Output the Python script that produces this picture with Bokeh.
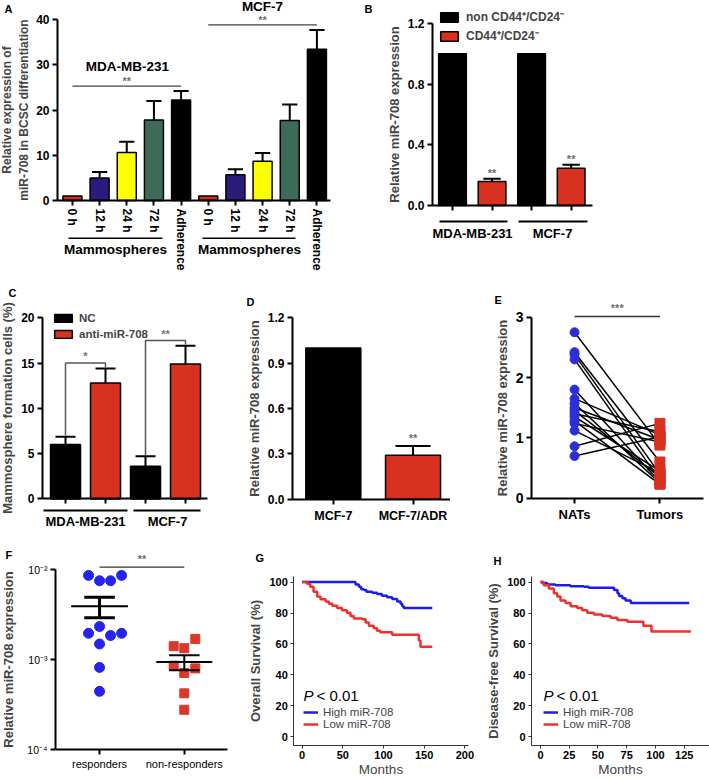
import math
import numpy as np
from bokeh.plotting import figure
from bokeh.layouts import row, column
from bokeh.models import Range1d, FixedTicker, Label, Legend, LegendItem, PrintfTickFormatter
from bokeh.embed import file_html
from bokeh.resources import INLINE

FONT = "Liberation Sans"
SX = 1.0
SY = 1.0

# ---------------- data ----------------
# A
a_groups = ["MDA-MB-231", "MCF-7"]
a_labels = ["0 h", "12 h", "24 h", "72 h", "Adherence", "0 h", "12 h", "24 h", "72 h", "Adherence"]
a_values = [1.0, 5.0, 10.6, 17.8, 22.2, 1.0, 5.7, 8.7, 17.7, 33.4]
a_err = [0.0, 1.3, 2.4, 4.2, 2.0, 0.0, 1.2, 1.8, 3.5, 4.3]
a_colors = ["#cf2f1f", "#2c1b7d", "#ffff00", "#3e6b58", "#000000"] * 2
# B
b_groups = ["MDA-MB-231", "MCF-7"]
b_series = ["non CD44\u207a/CD24\u207b", "CD44\u207a/CD24\u207b"]
b_non = [1.0, 1.0]
b_cd44 = [0.158, 0.246]
b_cd44_err = [0.018, 0.022]
# C
c_groups = ["MDA-MB-231", "MCF-7"]
c_series = ["NC", "anti-miR-708"]
c_nc = [6.0, 3.6]
c_nc_err = [0.85, 1.1]
c_anti = [12.8, 14.9]
c_anti_err = [1.6, 2.0]
c_sig = ["*", "**"]
# D
d_cats = ["MCF-7", "MCF-7/ADR"]
d_vals = [1.0, 0.29]
d_err = [0.0, 0.062]
# E
e_cats = ["NATs", "Tumors"]
e_nats = [2.75, 2.42, 2.38, 2.30, 1.80, 1.65, 1.57, 1.50, 1.45, 1.40, 1.35, 1.28, 1.24, 1.12, 0.86, 0.70]
e_tumors = [0.88, 0.60, 0.40, 0.30, 0.27, 1.05, 0.25, 0.97, 0.35, 1.10, 0.45, 0.23, 0.93, 0.42, 1.24, 1.02]
# F
f_cats = ["responders", "non-responders"]
f_resp = [8.6e-3, 7.5e-3, 7.5e-3, 8.6e-3, 2.33e-3, 1.96e-3, 1.85e-3, 1.96e-3, 1.49e-3, 8.2e-4, 4.45e-4]
f_resp_jit = [-0.13, 0.0, 0.13, 0.26, 0.0, -0.13, 0.13, 0.26, 0.0, 0.0, 0.0]
f_non = [1.41e-3, 1.70e-3, 1.34e-3, 8.58e-4, 7.12e-4, 8.0e-4, 4.23e-4, 2.78e-4]
f_non_jit = [-0.125, 0.13, 0.0, -0.125, 0.0, 0.13, 0.0, 0.0]
# G (overall survival)
g_high_t = [0, 65.6, 69.7, 72.5, 75.8, 79, 86, 92, 98, 104.5, 110.7, 116.8, 121, 123, 125, 160]
g_high_s = [100, 98.5, 96.9, 95.4, 94.8, 93.7, 93.1, 92.3, 91.2, 90.2, 89.1, 87.4, 86.0, 84.3, 83.3, 83.3]
g_low_t = [0, 6, 10, 14, 18.4, 22.5, 28.7, 32.8, 36.9, 43, 49, 55, 59.4, 63.5, 73.8, 78, 82, 88, 92, 96, 110.7, 143.5, 145.5, 160]
g_low_s = [100, 98.9, 96.9, 93.7, 90.6, 88.9, 87.4, 86.0, 84.7, 83.3, 81.8, 80.1, 78.0, 76.4, 75.9, 73.8, 71.8, 70.1, 68.6, 67.6, 66.0, 62.3, 58.2, 58.2]
# H (disease-free survival)
h_high_t = [0, 1.5, 5.8, 13, 26, 37.8, 42, 64, 67, 68.3, 71.2, 74, 78.5, 129.4]
h_high_s = [100, 99.4, 98.5, 97.9, 97.3, 96.9, 96.4, 94.8, 92.7, 91.0, 89.5, 88.1, 86.4, 86.4]
h_low_t = [0, 2.9, 7.3, 11.6, 14.5, 17.4, 21.8, 26.2, 32, 36.3, 40.7, 46.5, 53.8, 61, 66.9, 75.6, 89.5, 96.5, 130.8]
h_low_s = [100, 97.9, 95.8, 92.7, 90.6, 88.1, 86.4, 84.3, 83.3, 81.8, 80.1, 79.1, 78.0, 77.0, 75.5, 74.3, 71.8, 68.0, 68.0]
km_series = ["High miR-708", "Low miR-708"]

RED = "#d8311f"
GRAY = "#707070"


# ---------------- helpers ----------------
def panel(box, axes_box, xr, yr, log=False):
    """box: panel extent; axes_box: where the axes lie (reference pixels)."""
    bx0, by0, bx1, by1 = box
    fl, ft, fr, fb = axes_box

    def ref(rx, ry):
        x = xr[0] + (rx - fl) / (fr - fl) * (xr[1] - xr[0])
        t = (fb - ry) / (fb - ft)
        if log:
            a, b = math.log10(yr[0]), math.log10(yr[1])
            y = 10 ** (a + t * (b - a))
        else:
            y = yr[0] + t * (yr[1] - yr[0])
        return x, y

    X0, X1 = round(bx0 * SX), round(bx1 * SX)
    Y0, Y1 = round(by0 * SY), round(by1 * SY)
    xs, ys = ref(bx0, by1)
    xe, ye = ref(bx1, by0)
    p = figure(width=X1 - X0, height=Y1 - Y0, x_range=Range1d(xs, xe), y_range=Range1d(ys, ye),
               y_axis_type="log" if log else "linear", output_backend="svg", toolbar_location=None,
               min_border=0)
    p.outline_line_color = None
    p.xgrid.visible = False
    p.ygrid.visible = False
    p.xaxis.fixed_location = yr[0]
    p.xaxis.bounds = xr
    p.yaxis.fixed_location = xr[0]
    p.yaxis.bounds = yr

    def loc(rx, ry):
        return (round((rx - bx0) * SX), round((by1 - ry) * SY))
    return p, ref, loc


def style(p, lw=2.0, tick_size="12px", title_size="12.5px", tick_out=5, color="black", tick_bold=True):
    for ax in p.axis:
        ax.axis_line_width = lw
        ax.axis_line_color = color
        ax.major_tick_line_width = lw
        ax.major_tick_line_color = color
        ax.major_tick_in = 0
        ax.major_tick_out = tick_out
        ax.minor_tick_line_color = None
        ax.major_label_text_font = FONT
        ax.major_label_text_font_style = "bold" if tick_bold else "normal"
        ax.major_label_text_font_size = tick_size
        ax.major_label_text_color = "black"
        ax.major_label_standoff = 3
        ax.axis_label_text_font = FONT
        ax.axis_label_text_font_style = "bold"
        ax.axis_label_text_font_size = title_size
        ax.axis_label_standoff = 3


def lab(p, xy, s, size="12px", bold=True, color="black", align="center", italic=False):
    st = "bold" if bold else "normal"
    if italic:
        st = "italic"
    p.add_layout(Label(x=xy[0], y=xy[1], text=s, text_font=FONT, text_font_size=size,
                       text_font_style=st, text_color=color, text_align=align,
                       text_baseline="middle"))


def seg(p, a, b, width=1.5, color="black"):
    p.segment(x0=[a[0]], y0=[a[1]], x1=[b[0]], y1=[b[1]], line_width=width, line_color=color)


def err_bars(p, xs, tops, errs, cap, lw=2.0, color="black"):
    xe = [x for x, e in zip(xs, errs) if e > 0]
    te = [t for t, e in zip(tops, errs) if e > 0]
    ee = [t + e for t, e in zip(tops, errs) if e > 0]
    p.segment(x0=xe, y0=te, x1=xe, y1=ee, line_width=lw, line_color=color)
    p.segment(x0=[x - cap for x in xe], y0=ee, x1=[x + cap for x in xe], y1=ee,
              line_width=lw, line_color=color)


def mk_legend(items, location, gw, gh, lh, spacing, size, bold=True, standoff=6):
    return Legend(items=items, location=location, glyph_width=gw, glyph_height=gh,
                  label_height=lh, spacing=spacing, padding=0, margin=0, border_line_color=None,
                  background_fill_alpha=0, label_text_font=FONT,
                  label_text_font_style="bold" if bold else "normal",
                  label_text_font_size=size, label_standoff=standoff)


# ---------------- A ----------------
pA, rA, lA = panel((0, 0, 360, 285), (57, 19, 330, 200), (0.45, 10.5), (0, 40))
a_pos = list(range(1, len(a_values) + 1))
pA.vbar(x=a_pos, top=a_values, width=0.7, fill_color=a_colors, line_color="black", line_width=1.5)
err_bars(pA, a_pos, a_values, a_err, cap=0.28)
style(pA, title_size="12px")
pA.xaxis.ticker = FixedTicker(ticks=a_pos)
pA.xaxis.major_label_overrides = {x: l for x, l in zip(a_pos, a_labels)}
pA.xaxis.major_label_orientation = "vertical"
pA.yaxis.ticker = FixedTicker(ticks=[0, 10, 20, 30, 40])
pA.yaxis.axis_label = "Relative expression of\nmiR-708 in BCSC differentiation"
pA.yaxis.axis_label_standoff = 2
lab(pA, rA(4, 8), "A", size="11px", align="left")
lab(pA, rA(127, 66), a_groups[0], size="13.5px")
lab(pA, rA(262, 6), a_groups[1], size="13.5px")
seg(pA, (a_pos[0], rA(0, 85.7)[1]), (a_pos[4], rA(0, 85.7)[1]), width=1.3, color="#444")
seg(pA, (a_pos[5], rA(0, 24.3)[1]), (a_pos[9], rA(0, 24.3)[1]), width=1.3, color="#444")
lab(pA, ((a_pos[0] + a_pos[4]) / 2, rA(0, 80)[1]), "**", size="11px", color=GRAY)
lab(pA, ((a_pos[5] + a_pos[9]) / 2, rA(0, 19)[1]), "**", size="11px", color=GRAY)
seg(pA, rA(68, 237.7), rA(162, 237.7), width=1.5)
seg(pA, rA(202, 237.7), rA(295, 237.7), width=1.5)
lab(pA, rA(115, 249), "Mammospheres", size="13.5px")
lab(pA, rA(249, 249), "Mammospheres", size="13.5px")

# ---------------- B ----------------
pB, rB, lB = panel((360, 0, 709, 285), (432, 23, 592, 205), (0.494, 4.54), (0, 1.2))
b_pos_non = [1 + 2 * i for i in range(len(b_groups))]
b_pos_cd = [2 + 2 * i for i in range(len(b_groups))]
rb1 = pB.vbar(x=b_pos_non, top=b_non, width=0.7, fill_color="black", line_color="black", line_width=1.5)
rb2 = pB.vbar(x=b_pos_cd, top=b_cd44, width=0.7, fill_color=RED, line_color="black", line_width=1.5)
err_bars(pB, b_pos_cd, b_cd44, b_cd44_err, cap=0.22)
style(pB, title_size="13px")
pB.xaxis.ticker = FixedTicker(ticks=b_pos_non + b_pos_cd)
pB.xaxis.major_label_overrides = {x: "" for x in b_pos_non + b_pos_cd}
pB.yaxis.ticker = FixedTicker(ticks=[0, 0.4, 0.8, 1.2])
pB.yaxis.formatter = PrintfTickFormatter(format="%.1f")
pB.yaxis.axis_label = "Relative miR-708 expression"
for x, t, e in zip(b_pos_cd, b_cd44, b_cd44_err):
    lab(pB, (x, t + e + 0.04), "**", size="11px", color=GRAY)
seg(pB, rB(439, 221), rB(507, 221), width=1.8)
seg(pB, rB(518, 221), rB(587, 221), width=1.8)
lab(pB, rB(472, 233), b_groups[0], size="13px")
lab(pB, rB(552, 233), b_groups[1], size="13px")
lab(pB, rB(364, 8), "B", size="11px", align="left")
pB.add_layout(mk_legend([LegendItem(label=b_series[0], renderers=[rb1]),
                         LegendItem(label=b_series[1], renderers=[rb2])],
                        lB(438, 44), 22, 12, 14, 2, "12px"))

# ---------------- C ----------------
pC, rC, lC = panel((0, 285, 245, 545), (42, 317.3, 207, 498.4), (0.425, 4.55), (0, 20))
c_pos_nc = [1 + 2 * i for i in range(len(c_groups))]
c_pos_an = [2 + 2 * i for i in range(len(c_groups))]
rc1 = pC.vbar(x=c_pos_nc, top=c_nc, width=0.75, fill_color="black", line_color="black", line_width=1.5)
rc2 = pC.vbar(x=c_pos_an, top=c_anti, width=0.75, fill_color=RED, line_color="black", line_width=1.5)
err_bars(pC, c_pos_nc, c_nc, c_nc_err, cap=0.25)
err_bars(pC, c_pos_an, c_anti, c_anti_err, cap=0.25)
br_x, br_y = [], []
for i in range(len(c_groups)):
    top_l = c_nc[i] + c_nc_err[i] + 0.15
    top_r = c_anti[i] + c_anti_err[i] + 0.15
    ybr = top_r + 0.45
    br_x.append([c_pos_nc[i], c_pos_nc[i], c_pos_an[i], c_pos_an[i]])
    br_y.append([top_l, ybr, ybr, top_r])
    lab(pC, ((c_pos_nc[i] + c_pos_an[i]) / 2, ybr + 0.75), c_sig[i], size="11px", color=GRAY)
pC.multi_line(xs=br_x, ys=br_y, line_width=1.5, line_color="#555")
style(pC, title_size="13px")
pC.xaxis.ticker = FixedTicker(ticks=c_pos_nc + c_pos_an)
pC.xaxis.major_label_overrides = {x: "" for x in c_pos_nc + c_pos_an}
pC.yaxis.ticker = FixedTicker(ticks=[0, 5, 10, 15, 20])
pC.yaxis.axis_label = "Mammosphere formation cells (%)"
seg(pC, rC(43, 510), rC(127, 510), width=1.8)
seg(pC, rC(133, 510), rC(200, 510), width=1.8)
lab(pC, rC(85, 521), c_groups[0], size="13px")
lab(pC, rC(167, 521), c_groups[1], size="13px")
lab(pC, rC(8, 292), "C", size="11px", align="left")
pC.add_layout(mk_legend([LegendItem(label=c_series[0], renderers=[rc1]),
                         LegendItem(label=c_series[1], renderers=[rc2])],
                        lC(52, 340), 22, 10, 13, 3, "11.5px", standoff=5))

# ---------------- D ----------------
pD, rD, lD = panel((245, 285, 450, 545), (292, 317.3, 450, 498.7), (0.488, 2.47), (0, 1.2))
d_pos = list(range(1, len(d_cats) + 1))
pD.vbar(x=d_pos, top=d_vals, width=0.69, fill_color=["black", RED], line_color="black", line_width=1.5)
err_bars(pD, d_pos, d_vals, d_err, cap=0.22)
style(pD, title_size="13px")
pD.xaxis.ticker = FixedTicker(ticks=d_pos)
pD.xaxis.major_label_overrides = {x: c for x, c in zip(d_pos, d_cats)}
pD.xaxis.major_label_text_font_size = "12.5px"
pD.xaxis.major_label_standoff = 5
pD.yaxis.ticker = FixedTicker(ticks=[0, 0.3, 0.6, 0.9, 1.2])
pD.yaxis.formatter = PrintfTickFormatter(format="%.1f")
pD.yaxis.axis_label = "Relative miR-708 expression"
lab(pD, (d_pos[1], d_vals[1] + d_err[1] + 0.055), "**", size="11px", color=GRAY)
lab(pD, rD(246, 301), "D", size="11px", align="left")

# ---------------- E ----------------
pE, rE, lE = panel((450, 285, 709, 545), (531, 316.7, 703, 497.7), (0.496, 2.51), (0, 3))
n = len(e_nats)
pE.segment(x0=[1] * n, y0=e_nats, x1=[2] * n, y1=e_tumors, line_width=1.5, line_color="black")
pE.scatter(x=[1] * n, y=e_nats, marker="circle", size=9, fill_color="#2e2ed8", line_color="#2e2ed8")
pE.scatter(x=[2] * n, y=e_tumors, marker="square", size=10, fill_color=RED, line_color=RED)
style(pE, tick_size="14px", title_size="13px")
pE.xaxis.ticker = FixedTicker(ticks=[1, 2])
pE.xaxis.major_label_overrides = {1: e_cats[0], 2: e_cats[1]}
pE.xaxis.major_label_text_font_size = "13px"
pE.xaxis.major_label_standoff = 4
pE.yaxis.ticker = FixedTicker(ticks=[0, 1, 2, 3])
pE.yaxis.axis_label = "Relative miR-708 expression"
seg(pE, (1, rE(0, 316)[1]), (2, rE(0, 316)[1]), width=1.3, color="#333")
lab(pE, (1.5, rE(0, 307.3)[1]), "***", size="11px", color=GRAY)
lab(pE, rE(494, 299), "E", size="11px", align="left")

# ---------------- F ----------------
pF, rF, lF = panel((0, 545, 240, 779), (55, 569, 227, 749.3), (0.48, 2.51), (1e-4, 1e-2), log=True)
pF.scatter(x=[1 + j for j in f_resp_jit], y=f_resp, marker="circle", size=10,
           fill_color="#2424ee", line_color="#2424ee")
pF.scatter(x=[2 + j for j in f_non_jit], y=f_non, marker="square", size=9,
           fill_color="#d9392b", line_color="#d9392b")
for k, (vals, lw, half) in enumerate([(f_resp, 3.0, 0.335), (f_non, 2.0, 0.33)]):
    m = float(np.mean(vals))
    se = float(np.std(vals, ddof=1) / np.sqrt(len(vals)))
    xc = k + 1
    pF.segment(x0=[xc - half], y0=[m], x1=[xc + half], y1=[m], line_width=2, line_color="black")
    pF.segment(x0=[xc, xc - 0.18, xc - 0.18], y0=[m - se, m + se, m - se],
               x1=[xc, xc + 0.18, xc + 0.18], y1=[m + se, m + se, m - se],
               line_width=lw, line_color="black")
style(pF, tick_size="10.5px", tick_bold=False, title_size="13px")
pF.xaxis.ticker = FixedTicker(ticks=[1, 2])
pF.xaxis.major_label_overrides = {1: f_cats[0], 2: f_cats[1]}
pF.xaxis.major_label_text_font_size = "11px"
pF.xaxis.major_label_standoff = 3
pF.yaxis.ticker = FixedTicker(ticks=[1e-4, 1e-3, 1e-2])
pF.yaxis.major_label_overrides = {1e-4: "10\u207b\u2074", 1e-3: "10\u207b\u00b3", 1e-2: "10\u207b\u00b2"}
pF.yaxis.axis_label = "Relative miR-708 expression"
pF.yaxis.axis_label_standoff = 8
seg(pF, (1, rF(0, 566.7)[1]), (2, rF(0, 566.7)[1]), width=1.3, color="#333")
lab(pF, (1.5, rF(0, 558)[1]), "**", size="11px", color=GRAY)
lab(pF, rF(5, 554), "F", size="11px", align="left")


# ---------------- G / H ----------------
def km(box, axes_box, xr, ht, hs, lt, ls, title, xticks, letter, letter_xy, p_xy, lt_xy, leg_xy):
    p, r, l = panel(box, axes_box, xr, (-5.6, 103.6))
    r1 = p.step(x=ht, y=hs, mode="after", line_width=2.5, line_color="#1c1cf0")
    r2 = p.step(x=lt, y=ls, mode="after", line_width=2.5, line_color="#f0302c")
    style(p, lw=1.0, tick_size="11px", title_size="13px", tick_out=3, color="#333")
    p.xaxis.ticker = FixedTicker(ticks=xticks)
    p.yaxis.ticker = FixedTicker(ticks=[0, 20, 40, 60, 80, 100])
    p.yaxis.axis_label = title
    p.xaxis.axis_label = "Months"
    p.xaxis.axis_label_text_font_style = "normal"
    p.xaxis.axis_label_text_font_size = "13.5px"
    p.xaxis.major_label_standoff = 2
    p.xaxis.axis_label_standoff = 0
    lab(p, r(*letter_xy), letter, size="11px", align="left")
    lab(p, r(*p_xy), "P", size="15px", bold=False, italic=True, align="left")
    lab(p, r(*lt_xy), "< 0.01", size="15px", bold=False, align="left")
    p.add_layout(mk_legend([LegendItem(label=km_series[0], renderers=[r1]),
                            LegendItem(label=km_series[1], renderers=[r2])],
                           l(*leg_xy), 15, 10, 10, -1, "11.5px", bold=False, standoff=5))
    return p


pG = km((240, 545, 478, 779), (293.3, 576, 468.4, 745), (-10.3, 205), g_high_t, g_high_s, g_low_t, g_low_s,
        "Overall Survival (%)", [0, 50, 100, 150, 200], "G", (255, 557), (303, 695), (316, 695), (303, 730))
pH = km((478, 545, 709, 779), (531, 576, 709, 745), (-7.8, 147), h_high_t, h_high_s, h_low_t, h_low_s,
        "Disease-free Survival (%)", [0, 25, 50, 75, 100, 125], "H", (493, 560), (543, 695), (556, 695), (543, 730))

layout = column(row(pA, pB), row(pC, pD, pE), row(pF, pG, pH))
open("out.html", "w").write(file_html(layout, INLINE))
